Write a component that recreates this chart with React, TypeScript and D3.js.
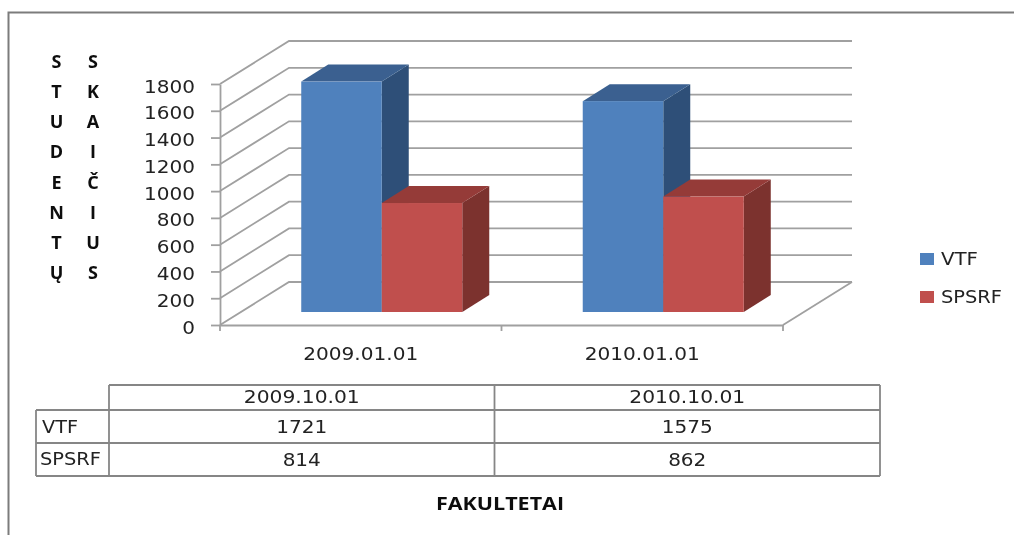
import React, { useEffect, useRef } from 'react';
import * as d3 from 'd3';

const categories = ['2009.01.01', '2010.01.01'];
const tableHeader = ['2009.10.01', '2010.10.01'];
const seriesNames = ['VTF', 'SPSRF'];
const vtfValues = [1721, 1575];
const spsrfValues = [814, 862];
const yTicks = [0, 200, 400, 600, 800, 1000, 1200, 1400, 1600, 1800];
const titleLeft = ['S', 'T', 'U', 'D', 'E', 'N', 'T', 'Ų'];
const titleRight = ['S', 'K', 'A', 'I', 'Č', 'I', 'U', 'S'];
const frontColors = ['#4F81BD', '#C0504D'];
const topColors = ['#3A6190', '#953B38'];
const sideColors = ['#2F5078', '#7B302E'];

const FONT = '"DejaVu Sans", sans-serif';
const BOLD = '"Open Sans", sans-serif';
const GRID = '#A0A0A0';
const INK = '#222';
const DIGIT = 12.75; // the picture's text is stretched sideways, so widths are forced

const App = () => {
  const svgRef = useRef<SVGSVGElement>(null);

  useEffect(() => {
    const root = d3.select(svgRef.current);
    root.selectAll('*').remove();

    const defs = root.append('defs');
    defs.append('filter').attr('id', 'soft')
      .append('feGaussianBlur').attr('stdDeviation', 0.5);

    const svg = root.append('g').attr('filter', 'url(#soft)');

    // outer frame: only top and left are inside the picture
    svg.append('path')
      .attr('d', 'M8.5,535V12.5H1014')
      .attr('fill', 'none').attr('stroke', '#7C7C7C').attr('stroke-width', 2);

    const plotLeft = 220, plotRight = 783;
    const wallDx = 69, wallDy = 43;   // depth of the 3D box
    const barDx = 27, barDy = 17;     // depth of a bar
    const planeDx = 21, planeDy = 13; // shift of the bars' front plane

    const y = d3.scaleLinear().domain([0, 1800]).range([325, 84]);
    const xAxisScale = d3.scaleBand().domain(categories).range([plotLeft, plotRight]);
    const x = d3.scaleBand().domain(categories)
      .range([plotLeft + planeDx, plotRight + planeDx])
      .paddingInner(0.428).paddingOuter(0.214);
    const xSeries = d3.scaleBand().domain(seriesNames).range([0, x.bandwidth()]);

    // walls and floor
    const line = d3.line();
    svg.append('g').selectAll('path').data(yTicks).enter().append('path')
      .attr('d', d => line([
        [plotLeft, y(d)],
        [plotLeft + wallDx, y(d) - wallDy],
        [plotRight + wallDx, y(d) - wallDy],
      ]))
      .attr('fill', 'none').attr('stroke', GRID).attr('stroke-width', 1.8);
    svg.append('path')
      .attr('d', line([
        [plotRight, y(0)],
        [plotRight + wallDx, y(0) - wallDy],
      ]))
      .attr('stroke', GRID).attr('stroke-width', 1.8);

    // axes
    const yAxis = svg.append('g').attr('transform', `translate(${plotLeft},0)`)
      .call(d3.axisLeft(y).tickValues(yTicks).tickFormat(d3.format('d'))
        .tickSize(9).tickPadding(16).tickSizeOuter(0));
    yAxis.selectAll('text')
      .attr('font-family', FONT).attr('font-size', 17.5).attr('fill', INK)
      .attr('dy', 8)
      .attr('textLength', d => String(d).length * DIGIT)
      .attr('lengthAdjust', 'spacingAndGlyphs');

    const xAxis = svg.append('g').attr('transform', `translate(0,${y(0)})`)
      .call(d3.axisBottom(xAxisScale).tickSize(0).tickPadding(0).tickSizeOuter(0));
    xAxis.selectAll('text')
      .attr('font-family', FONT).attr('font-size', 17.5).attr('fill', INK)
      .attr('y', 35).attr('dy', 0)
      .attr('textLength', 115).attr('lengthAdjust', 'spacingAndGlyphs');
    svg.append('g').selectAll('line')
      .data([plotLeft, (plotLeft + plotRight) / 2, plotRight]).enter().append('line')
      .attr('x1', d => d).attr('x2', d => d)
      .attr('y1', y(0)).attr('y2', y(0) + 6)
      .attr('stroke', GRID).attr('stroke-width', 1.8);
    [yAxis, xAxis].forEach(a => a.selectAll('.domain, .tick line')
      .attr('stroke', GRID).attr('stroke-width', 1.8));

    // bars
    const baseline = y(0) - planeDy;
    const valueScale = (v: number) => baseline - (y(0) - y(v));
    categories.forEach((cat, c) => {
      [vtfValues, spsrfValues].forEach((values, s) => {
        const x0 = x(cat)! + xSeries(seriesNames[s])!;
        const x1 = x0 + xSeries.bandwidth();
        const top = valueScale(values[c]);
        const g = svg.append('g');
        g.append('path')
          .attr('d', line([[x1, top], [x1 + barDx, top - barDy], [x1 + barDx, baseline - barDy], [x1, baseline]]))
          .attr('fill', sideColors[s]);
        g.append('path')
          .attr('d', line([[x0, top], [x0 + barDx, top - barDy], [x1 + barDx, top - barDy], [x1, top]]))
          .attr('fill', topColors[s]);
        g.append('rect')
          .attr('x', x0).attr('y', top)
          .attr('width', x1 - x0).attr('height', baseline - top)
          .attr('fill', frontColors[s]);
      });
    });

    // vertical y title, two columns of letters
    const titleY = d3.scalePoint().domain(d3.range(8).map(String)).range([68, 279]);
    [[titleLeft, 56.5], [titleRight, 93]].forEach(([letters, tx]) => {
      svg.append('g').selectAll('text').data(letters as string[]).enter().append('text')
        .attr('x', tx as number).attr('y', (_, i) => titleY(String(i))!)
        .attr('text-anchor', 'middle')
        .attr('font-family', BOLD).attr('font-weight', 700).attr('font-size', 18)
        .attr('fill', '#111')
        .text(d => d);
    });

    const label = (tx: number, ty: number, text: string | number, width: number, anchor = 'middle', size = 17.5) =>
      svg.append('text').attr('x', tx).attr('y', ty).attr('text-anchor', anchor)
        .attr('font-family', FONT).attr('font-size', size).attr('fill', INK)
        .attr('textLength', width).attr('lengthAdjust', 'spacingAndGlyphs')
        .text(text);

    // legend
    const legendWidths = [37, 61];
    const legendY = d3.scalePoint().domain(seriesNames).range([259, 297]);
    seriesNames.forEach((name, s) => {
      const ly = legendY(name)!;
      svg.append('rect').attr('x', 920).attr('y', ly - 6).attr('width', 14).attr('height', 12)
        .attr('fill', frontColors[s]);
      label(941, ly + 6, name, legendWidths[s], 'start');
    });

    // data table
    const colX = [36, 109, 494.5, 880];
    const rowY = [385, 410, 443, 476];
    const table = svg.append('g').attr('fill', 'none').attr('stroke', '#868686').attr('stroke-width', 1.8);
    table.append('path').attr('d', line([[colX[1], rowY[0]], [colX[3], rowY[0]]]));
    rowY.slice(1).forEach(r => table.append('path').attr('d', line([[colX[0], r], [colX[3], r]])));
    table.append('path').attr('d', line([[colX[0], rowY[1]], [colX[0], rowY[3]]]));
    colX.slice(1).forEach(c => table.append('path').attr('d', line([[c, rowY[0]], [c, rowY[3]]])));

    tableHeader.forEach((h, i) => label((colX[i + 1] + colX[i + 2]) / 2, 403, h, 116));
    vtfValues.forEach((v, i) => label((colX[i + 1] + colX[i + 2]) / 2, 433, v, 4 * DIGIT));
    spsrfValues.forEach((v, i) => label((colX[i + 1] + colX[i + 2]) / 2, 466, v, 3 * DIGIT));
    label(42, 433, seriesNames[0], 36, 'start');
    label(40, 465, seriesNames[1], 61, 'start');

    svg.append('text').attr('x', 500).attr('y', 510).attr('text-anchor', 'middle')
      .attr('font-family', BOLD).attr('font-weight', 700).attr('font-size', 18)
      .attr('fill', '#111')
      .attr('textLength', 128).attr('lengthAdjust', 'spacingAndGlyphs')
      .text('FAKULTETAI');
  }, []);

  return (
    <svg ref={svgRef} width={1014} height={535}
      style={{ position: 'absolute', left: 0, top: 0, background: '#fff' }} />
  );
};

export default App;
